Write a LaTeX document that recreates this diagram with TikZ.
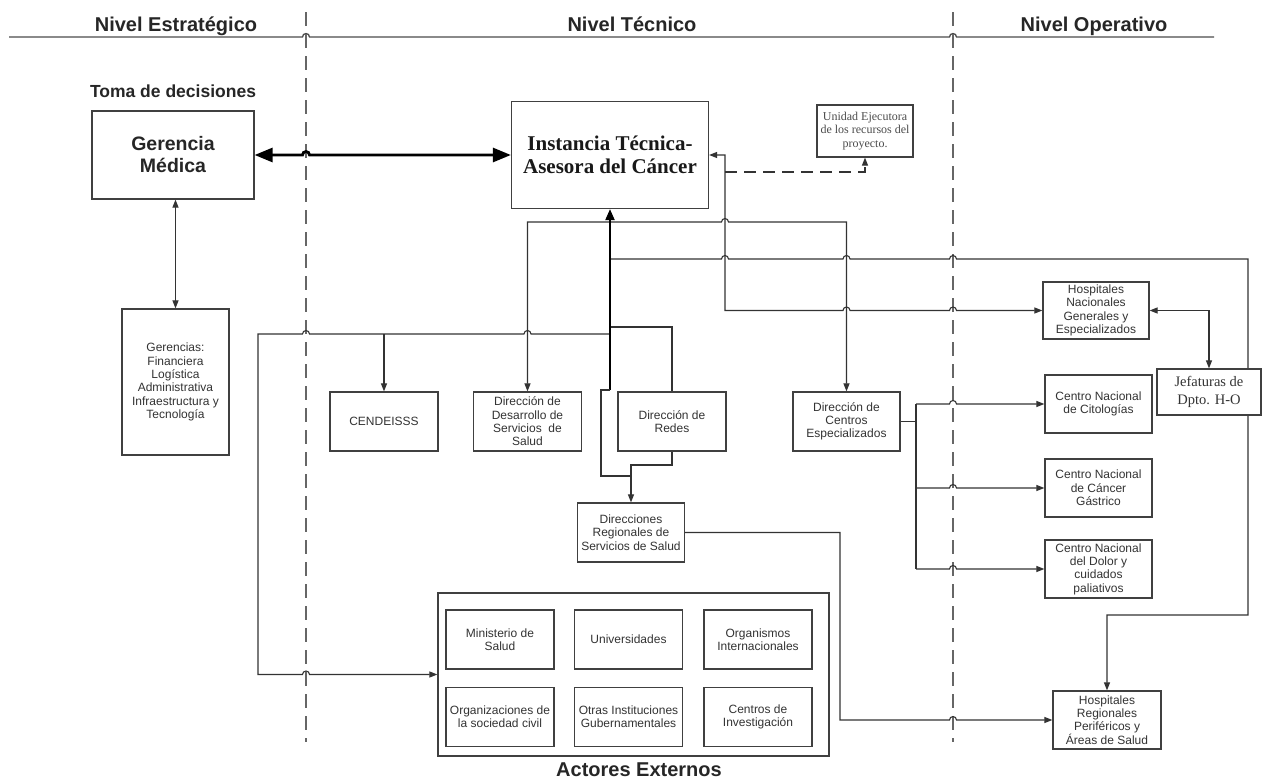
\documentclass[tikz,border=0pt]{standalone}
\usepackage{fontspec}
\setmainfont{Liberation Sans}
\newfontfamily\serifo{Liberation Serif}
\usetikzlibrary{arrows.meta,backgrounds}
\newcommand\hopr[2]{-- ({#1-3.5},#2) arc[start angle=180,end angle=360,radius=3.5]}
\newcommand\hopl[2]{-- ({#1+3.5},#2) arc[start angle=0,end angle=-180,radius=3.5]}
\tikzset{
  bx/.style={draw=black!75, line width=1.2pt, fill=white, align=center, inner sep=1pt,
    text=black!80, font=\fontsize{12}{13.3}\selectfont, minimum width=108pt, minimum height=59pt},
  conn/.style={draw=black!80, line width=1.1pt},
  arrto/.style={-{Triangle[length=8pt,width=6pt]}},
  arrboth/.style={{Triangle[length=8pt,width=6pt]}-{Triangle[length=8pt,width=6pt]}},
  lvl/.style={font=\fontsize{20}{24}\selectfont\bfseries, text=black!85, anchor=base},
  sepdash/.style={draw=black!60, line width=1.2pt, dash pattern=on 14pt off 8pt},
}
\begin{document}
\begin{tikzpicture}[x=1pt,y=-1pt]
\useasboundingbox (0,0) rectangle (1262,782);

% level labels
\node[lvl] (l1) at (176,31) {Nivel Estratégico};
\node[lvl] (l2) at (632,31) {Nivel Técnico};
\node[lvl] (l3) at (1094,31) {Nivel Operativo};
\node[font=\fontsize{17.5}{20}\selectfont\bfseries, text=black!85] (toma) at (173,91) {Toma de decisiones};
\node[font=\fontsize{20}{24}\selectfont\bfseries, text=black!85] (actl) at (639,770) {Actores Externos};

% boxes
\node[bx, minimum width=162pt, minimum height=88pt, font=\fontsize{19.5}{22}\selectfont\bfseries, text=black!85] (ger) at (173,155) {Gerencia\\Médica};
\node[bx, minimum width=197pt, minimum height=107pt, font=\serifo\fontsize{21}{23.5}\selectfont\bfseries, text=black!90] (ins) at (610,155) {Instancia Técnica-\\Asesora del Cáncer};
\node[bx, minimum width=96pt, minimum height=52pt, font=\serifo\fontsize{12}{13.5}\selectfont, text=black!70] (uni) at (865,131) {Unidad Ejecutora\\de los recursos del\\proyecto.};
\node[bx, minimum width=107pt, minimum height=146pt] (grs) at (175.5,382) {Gerencias:\\Financiera\\Logística\\Administrativa\\Infraestructura y\\Tecnología};
\node[bx] (cen) at (384,421.5) {CENDEISSS};
\node[bx] (dds) at (527.5,421.5) {Dirección de\\Desarrollo de\\Servicios~ de\\Salud};
\node[bx] (dre) at (672,421.5) {Dirección de\\Redes};
\node[bx, minimum width=107pt] (dce) at (846.5,421.5) {Dirección de\\Centros\\Especializados};
\node[bx, minimum width=107pt] (drs) at (631,532.5) {Direcciones\\Regionales de\\Servicios de Salud};
\node[bx, minimum width=106pt, minimum height=57pt] (hng) at (1096,310.5) {Hospitales\\Nacionales\\Generales y\\Especializados};
\node[bx, minimum width=104pt, minimum height=46pt, font=\serifo\fontsize{14.5}{18}\selectfont] (jef) at (1209,392) {Jefaturas de\\Dpto. H-O};
\node[bx, minimum width=107pt, minimum height=58pt] (cit) at (1098.5,404) {Centro Nacional\\de Citologías};
\node[bx, minimum width=107pt, minimum height=58pt] (gas) at (1098.5,488) {Centro Nacional\\de Cáncer\\Gástrico};
\node[bx, minimum width=107pt, minimum height=58pt] (dol) at (1098.5,569) {Centro Nacional\\del Dolor y\\cuidados\\paliativos};
\node[bx, minimum width=108pt, minimum height=58pt] (hrp) at (1107,720) {Hospitales\\Regionales\\Periféricos y\\Áreas de Salud};
\node[draw=black!75, line width=1.2pt, fill=white, minimum width=391pt, minimum height=163pt, inner sep=0pt] (act) at (633.5,674.5) {};
\node[bx] (m1) at (500,639.5) {Ministerio de\\Salud};
\node[bx] (m2) at (628.5,639.5) {Universidades};
\node[bx] (m3) at (758,639.5) {Organismos\\Internacionales};
\node[bx] (m4) at (500,717) {Organizaciones de\\la sociedad civil};
\node[bx] (m5) at (628.5,717) {Otras Instituciones\\Gubernamentales};
\node[bx] (m6) at (758,717) {Centros de\\Investigación};

\coordinate (j1) at (725,172);
\coordinate (t259) at (610,259);
\coordinate (t327) at (610,327);
\coordinate (t334) at (610,334);
\coordinate (t390) at (610,390);
\coordinate (b384) at (384,334);
\coordinate (c404) at (916,404);
\coordinate (c488) at (916,488);
\coordinate (c569) at (916,569);

\begin{pgfonlayer}{background}
\fill[white] (0,0) rectangle (1262,782);
% header line and separators
\draw[draw=black!70, line width=1.3pt] (9,37) \hopr{306}{37} \hopr{953}{37} -- (1214,37);
\draw[sepdash] (306,12) -- (306,742);
\draw[sepdash] (953,12) -- (953,742);

% thick double arrow
\draw[draw=black, line width=2.8pt, {Triangle[length=18pt,width=14pt]}-{Triangle[length=18pt,width=14pt]}] (ger.east) \hopr{306}{155} -- (ins.west);
% gerencia - gerencias
\draw[conn, arrboth] (grs.north |- ger.south) -- (grs.north);
% instancia - hospitales nacionales
\draw[conn, arrboth] (ins.east) -- (725,155) -- (725,310.5) \hopr{846.5}{310.5} \hopr{953}{310.5} -- (hng.west);
% dashed to unidad
\draw[conn, dashed, dash pattern=on 12pt off 7pt, arrto] (j1) -- (865,172) -- (uni.south);
% 222 line
\draw[conn, arrboth] (dds.north) -- (527.5,222) \hopr{725}{222} -- (846.5,222) -- (dce.north);
% 259 line to hospitales regionales
\draw[conn, arrto] (t259) \hopr{725}{259} \hopr{846.5}{259} \hopr{953}{259} -- (1248,259) -- (1248,615) -- (1107,615) -- (hrp.north);
% 334 line to actores
\draw[conn, arrto] (t334) \hopl{527.5}{334} \hopl{306}{334} -- (258,334) -- (258,674.5) \hopr{306}{674.5} -- (act.west);
\draw[conn, arrto] (b384) -- (cen.north);
% 327 to redes
\draw[conn] (t327) -- (672,327) -- (dre.north);
% trunk
\draw[draw=black, line width=2pt, -{Triangle[length=11pt,width=9pt]}] (t390) -- (ins.south);
\draw[conn] (t390) -- (601,390) -- (601,476) -- (631,476);
\draw[conn, arrto] (dre.south) -- (672,465) -- (631,465) -- (drs.north);
% centros
\draw[conn, line width=1.8pt] (dce.east) -- (916,421.5);
\draw[conn] (c404) -- (c569);
\draw[conn, arrto] (c404) \hopr{953}{404} -- (cit.west);
\draw[conn, arrto] (c488) \hopr{953}{488} -- (gas.west);
\draw[conn, arrto] (c569) \hopr{953}{569} -- (dol.west);
% direcciones regionales to hospitales regionales
\draw[conn, arrto] (drs.east) -- (840,532.5) -- (840,720) \hopr{953}{720} -- (hrp.west);
% hospitales nacionales - jefaturas
\draw[conn, arrboth] (hng.east) -| (jef.north);
\end{pgfonlayer}
\end{tikzpicture}
\end{document}
